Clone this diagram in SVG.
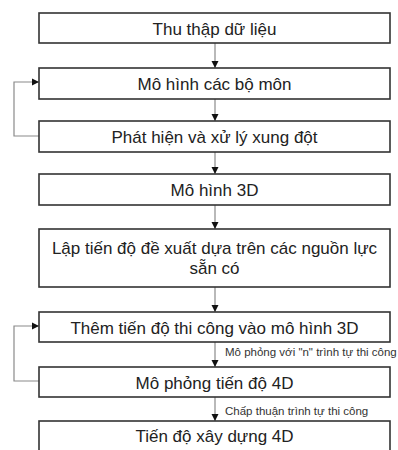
<svg xmlns="http://www.w3.org/2000/svg" width="398" height="450" viewBox="0 0 398 450">
<defs>
<marker id="ah" markerWidth="8" markerHeight="8" refX="7" refY="4" orient="auto" markerUnits="userSpaceOnUse">
<path d="M0,0.5 L7,4 L0,7.5 Z" fill="#111"/>
</marker>
<style>
.box{fill:#fff;stroke:#333;stroke-width:1.6}
.t{font-family:"Liberation Sans",Arial,sans-serif;font-size:17px;fill:#222;text-anchor:middle}
.c{fill:none;stroke:#8a8a8a;stroke-width:1.2;marker-end:url(#ah)}
.lbl{font-family:"Liberation Sans",Arial,sans-serif;font-size:11.5px;fill:#333}
</style>
</defs>
<rect width="398" height="450" fill="#fff"/>
<g id="connectors">
<line class="c" x1="215" y1="43" x2="215" y2="68"/>
<line class="c" x1="215" y1="99" x2="215" y2="121"/>
<line class="c" x1="215" y1="152" x2="215" y2="174"/>
<line class="c" x1="215" y1="205" x2="215" y2="229"/>
<line class="c" x1="215" y1="287" x2="215" y2="312"/>
<line class="c" x1="215" y1="342" x2="215" y2="367"/>
<line class="c" x1="215" y1="397" x2="215" y2="421"/>
<polyline class="c" points="39,136 14,136 14,82 39,82"/>
<polyline class="c" points="39,381 14,381 14,326 39,326"/>
<text class="lbl" x="225" y="356">Mô phỏng với "n" trình tự thi công</text>
<text class="lbl" x="225" y="415">Chấp thuận trình tự thi công</text>
</g>
<g id="n1"><rect class="box" x="39" y="13" width="351" height="30"/><text class="t" x="214.5" y="34.5">Thu thập dữ liệu</text></g>
<g id="n2"><rect class="box" x="39" y="68" width="351" height="31"/><text class="t" x="214.5" y="89.5">Mô hình các bộ môn</text></g>
<g id="n3"><rect class="box" x="39" y="121" width="351" height="31"/><text class="t" x="214.5" y="142.5">Phát hiện và xử lý xung đột</text></g>
<g id="n4"><rect class="box" x="39" y="174" width="351" height="31"/><text class="t" x="214.5" y="195.5">Mô hình 3D</text></g>
<g id="n5"><rect class="box" x="39" y="229" width="351" height="58"/><text class="t" x="214.5" y="254">Lập tiến độ đề xuất dựa trên các nguồn lực</text><text class="t" x="214.5" y="274">sẵn có</text></g>
<g id="n6"><rect class="box" x="39" y="312" width="351" height="30"/><text class="t" x="214.5" y="333.5">Thêm tiến độ thi công vào mô hình 3D</text></g>
<g id="n7"><rect class="box" x="39" y="367" width="351" height="30"/><text class="t" x="214.5" y="388.5">Mô phỏng tiến độ 4D</text></g>
<g id="n8"><rect class="box" x="39" y="421" width="351" height="40"/><text class="t" x="214.5" y="442">Tiến độ xây dựng 4D</text></g>
</svg>
